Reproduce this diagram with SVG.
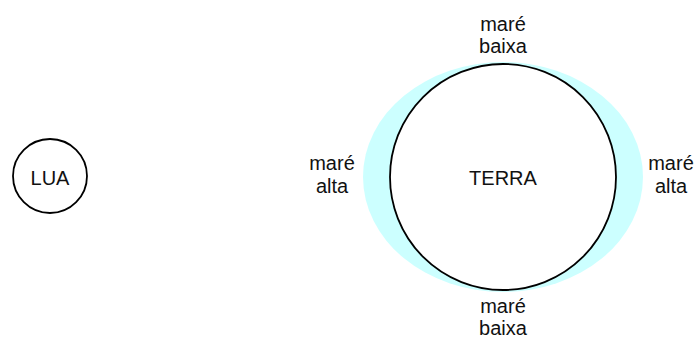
<svg xmlns="http://www.w3.org/2000/svg" width="696" height="340" viewBox="0 0 696 340">
<style>
  text { font-family: "Liberation Sans", Arial, sans-serif; font-size: 20px; fill: #111; text-anchor: middle; }
  .body { fill: #fff; stroke: #000; stroke-width: 1.8; }
  .tide { fill: #ccffff; stroke: none; }
</style>
<rect width="696" height="340" fill="#fff"/>
<g id="lua">
  <circle class="body" cx="50" cy="176" r="37"/>
  <text x="50" y="185">LUA</text>
</g>
<g id="mare-oceano">
  <ellipse class="tide" cx="503" cy="177" rx="140" ry="115"/>
</g>
<g id="terra">
  <circle class="body" cx="503" cy="177" r="113"/>
  <text x="503" y="185">TERRA</text>
</g>
<g id="label-top">
  <text x="503" y="31">maré</text>
  <text x="503" y="53">baixa</text>
</g>
<g id="label-bottom">
  <text x="503" y="313">maré</text>
  <text x="503" y="335">baixa</text>
</g>
<g id="label-left">
  <text x="332" y="170">maré</text>
  <text x="332" y="193">alta</text>
</g>
<g id="label-right">
  <text x="671" y="170">maré</text>
  <text x="671" y="193">alta</text>
</g>
<g id="connectors"></g>
</svg>
